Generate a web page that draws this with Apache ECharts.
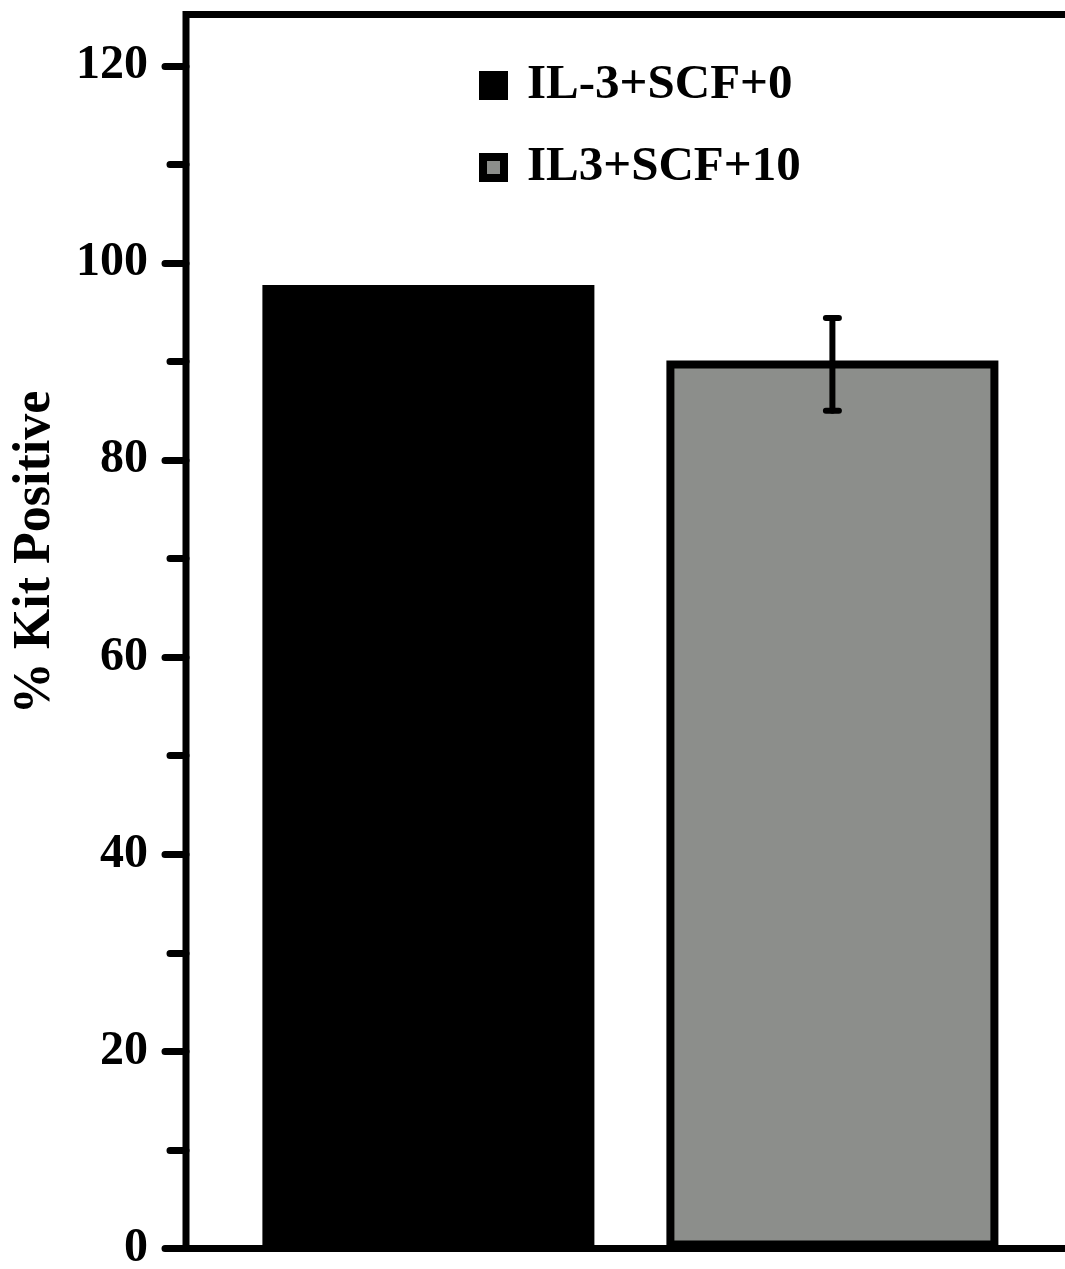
<!DOCTYPE html>
<html>
<head>
<meta charset="utf-8">
<script src="https://cdn.jsdelivr.net/npm/echarts@6/dist/echarts.min.js"></script>
<style>
  html, body { margin: 0; padding: 0; background: #fff; }
  #main { width: 1065px; height: 1269px; }
</style>
</head>
<body>
<div id="main"></div>
<script>
// 数据
var groups = ['IL-3+SCF+0', 'IL3+SCF+10'];
var groupPos = [1, 2];
var kitPositive = [97.75, 90.1];
var errLow = [null, 85.0];
var errHigh = [null, 94.4];
var majorTicks = [0, 20, 40, 60, 80, 100, 120];
var minorTicks = [10, 30, 50, 70, 90, 110];

var barColors = ['#000000', '#8c8e8b'];
var font = "'Liberation Serif', 'Times New Roman', serif";

var myChart = echarts.init(document.getElementById('main'));

var barSeries = groups.map(function (name, i) {
    return {
        name: name,
        type: 'bar',
        barWidth: 332,
        barGap: '-100%',
        data: [[groupPos[i], kitPositive[i]]],
        itemStyle: { color: barColors[i], borderColor: '#000', borderWidth: 8 },
        z: 3
    };
});

var errData = [];
for (var i = 0; i < groups.length; i++) {
    if (errLow[i] != null) {
        errData.push([groupPos[i], errLow[i], errHigh[i]]);
    }
}

myChart.setOption({
    animation: false,
    backgroundColor: '#fff',
    grid: {
        left: 186, top: 14.5, right: -30, bottom: 20.5,
        outerBoundsMode: 'none',
        containLabel: false,
        show: true, borderColor: '#000', borderWidth: 7
    },
    legend: {
        orient: 'vertical',
        left: 479,
        top: 61,
        padding: 0,
        itemWidth: 21,
        itemHeight: 21,
        itemGap: 33,
        data: groups.map(function (name, i) {
            return {
                name: name,
                icon: 'rect',
                itemStyle: { color: barColors[i], borderColor: '#000', borderWidth: 8 }
            };
        }),
        textStyle: {
            fontFamily: font, fontWeight: 'bold', fontSize: 49, color: '#000',
            padding: [0, 0, 0, 18]
        }
    },
    xAxis: {
        type: 'value',
        min: 0.4,
        max: 2.65,
        show: false
    },
    yAxis: [{
        type: 'value',
        position: 'left',
        min: 0,
        max: 125.2,
        name: '% Kit Positive',
        nameLocation: 'middle',
        nameGap: 124,
        nameTextStyle: {
            fontFamily: font, fontWeight: 'bold', fontSize: 52, color: '#000',
            padding: [0, 0, 0, 158]
        },
        axisLine: { show: false },
        splitLine: { show: false },
        axisTick: {
            show: true, length: 21, customValues: majorTicks,
            lineStyle: { color: '#000', width: 7, cap: 'round' }
        },
        axisLabel: {
            customValues: majorTicks,
            margin: 38,
            fontFamily: font, fontWeight: 'bold', fontSize: 48, color: '#000'
        }
    }, {
        type: 'value',
        position: 'left',
        min: 0,
        max: 125.2,
        axisLine: { show: false },
        splitLine: { show: false },
        axisLabel: { show: false },
        axisTick: {
            show: true, length: 16, customValues: minorTicks,
            lineStyle: { color: '#000', width: 7, cap: 'round' }
        }
    }],
    series: barSeries.concat([{
        type: 'custom',
        name: 'error',
        z: 5,
        data: errData,
        renderItem: function (params, api) {
            var x = api.value(0);
            var lo = api.coord([x, api.value(1)]);
            var hi = api.coord([x, api.value(2)]);
            var half = 6.5;
            var st = { stroke: '#000', lineWidth: 6, lineCap: 'round' };
            return {
                type: 'group',
                children: [
                    { type: 'line', shape: { x1: lo[0], y1: lo[1], x2: hi[0], y2: hi[1] }, style: st },
                    { type: 'line', shape: { x1: lo[0] - half, y1: lo[1], x2: lo[0] + half, y2: lo[1] }, style: st },
                    { type: 'line', shape: { x1: hi[0] - half, y1: hi[1], x2: hi[0] + half, y2: hi[1] }, style: st }
                ]
            };
        }
    }])
});
</script>
</body>
</html>
